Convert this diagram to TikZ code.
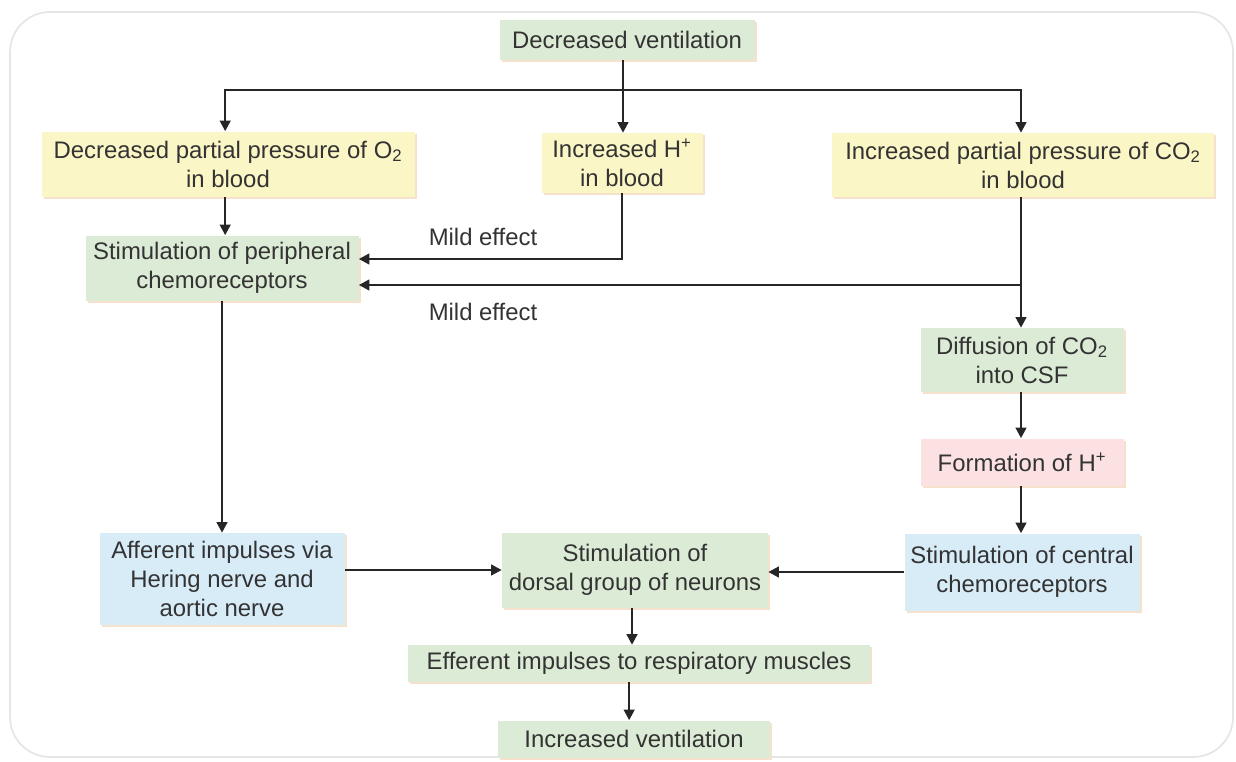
\documentclass[tikz,border=0pt]{standalone}
\usepackage{fontspec}
\setmainfont{Liberation Sans}
\usepackage{tikz}
\usetikzlibrary{arrows.meta,positioning,calc,shadows}

\definecolor{grnbox}{HTML}{DCEBD6}
\definecolor{ylwbox}{HTML}{FBF6C6}
\definecolor{pnkbox}{HTML}{FBE1E1}
\definecolor{blubox}{HTML}{D8ECF8}
\definecolor{peach}{HTML}{F6E2CC}
\definecolor{inktext}{HTML}{333333}

\begin{document}
\begin{tikzpicture}[
  x=0.025cm, y=-0.025cm,
  box/.style={inner sep=0pt, align=center, text=inktext,
              font=\fontsize{17}{20.6}\selectfont,
              drop shadow={shadow xshift=1.5pt, shadow yshift=-1.5pt,
                           fill=peach, opacity=1}},
  gbox/.style={box, fill=grnbox},
  ybox/.style={box, fill=ylwbox},
  pbox/.style={box, fill=pnkbox},
  bbox/.style={box, fill=blubox},
  lbl/.style={text=inktext, font=\fontsize{17}{20.6}\selectfont},
  arr/.style={-{Triangle[length=7.5pt,width=7.5pt]}, line width=1.7pt, draw=black!85}
]
\useasboundingbox (0,0) rectangle (1236,762);
\draw[draw=black!10, line width=1.2pt, rounded corners=1cm] (10,12) rectangle (1233,757);

\node[gbox, minimum width=255*0.025cm, minimum height=40*0.025cm] (dv) at (627,40) {Decreased ventilation};
\node[ybox, minimum width=373*0.025cm, minimum height=65*0.025cm] (o2) at (228,164) {Decreased partial pressure of O\textsubscript{2}\\in blood};
\node[ybox, minimum width=161*0.025cm, minimum height=60*0.025cm] (hp) at (622,163) {Increased H\textsuperscript{+}\\in blood};
\node[ybox, minimum width=382*0.025cm, minimum height=64*0.025cm] (co2) at (1023,165) {Increased partial pressure of CO\textsubscript{2}\\in blood};
\node[gbox, minimum width=273*0.025cm, minimum height=65*0.025cm] (per) at (222,268) {Stimulation of peripheral\\chemoreceptors};
\node[gbox, minimum width=203*0.025cm, minimum height=64*0.025cm] (diff) at (1022,360) {Diffusion of CO\textsubscript{2}\\into CSF};
\node[pbox, minimum width=203*0.025cm, minimum height=47*0.025cm] (form) at (1022,462) {Formation of H\textsuperscript{+}};
\node[bbox, minimum width=235*0.025cm, minimum height=77*0.025cm] (cen) at (1022,572) {Stimulation of central\\chemoreceptors};
\node[bbox, minimum width=245*0.025cm, minimum height=92*0.025cm] (aff) at (222,579) {Afferent impulses via\\Hering nerve and\\aortic nerve};
\node[gbox, minimum width=266*0.025cm, minimum height=75*0.025cm] (dor) at (635,570) {Stimulation of\\dorsal group of neurons};
\node[gbox, minimum width=462*0.025cm, minimum height=37*0.025cm] (eff) at (639,663) {Efferent impulses to respiratory muscles};
\node[gbox, minimum width=272*0.025cm, minimum height=37*0.025cm] (inc) at (634,739) {Increased ventilation};

\node[lbl] (mild1) at (483,237) {Mild effect};
\node[lbl] (mild2) at (483,312) {Mild effect};

\coordinate (split) at (623,90);
\coordinate (cojoin) at (1021,285);

\draw[arr] (dv.south -| split) -- (hp.north -| split);
\draw[arr] (split) -| ([xshift=-2]o2.north);
\draw[arr] (split) -| (co2.north -| cojoin);
\draw[arr] ([xshift=-2]o2.south) -- ([xshift=-2]o2.south |- per.north);
\draw[arr] (hp.south) |- ($(per.east)+(0,-9)$);
\draw[arr] (co2.south -| cojoin) -- (diff.north -| cojoin);
\draw[arr] (cojoin) -- (cojoin -| per.east);
\draw[arr] (diff.south -| cojoin) -- (form.north -| cojoin);
\draw[arr] (form.south -| cojoin) -- (cen.north -| cojoin);
\draw[arr] (per.south) -- (aff.north);
\draw[arr] (dor.west -| aff.east) -- (dor.west);
\draw[arr] (cen.west) -- (cen.west -| dor.east);
\draw[arr] (dor.south -| eff.north) ++(-7,0) -- ++(0,37);
\draw[arr] ([xshift=-7]eff.south) -- ([xshift=-7]eff.south |- inc.north);
\end{tikzpicture}
\end{document}
